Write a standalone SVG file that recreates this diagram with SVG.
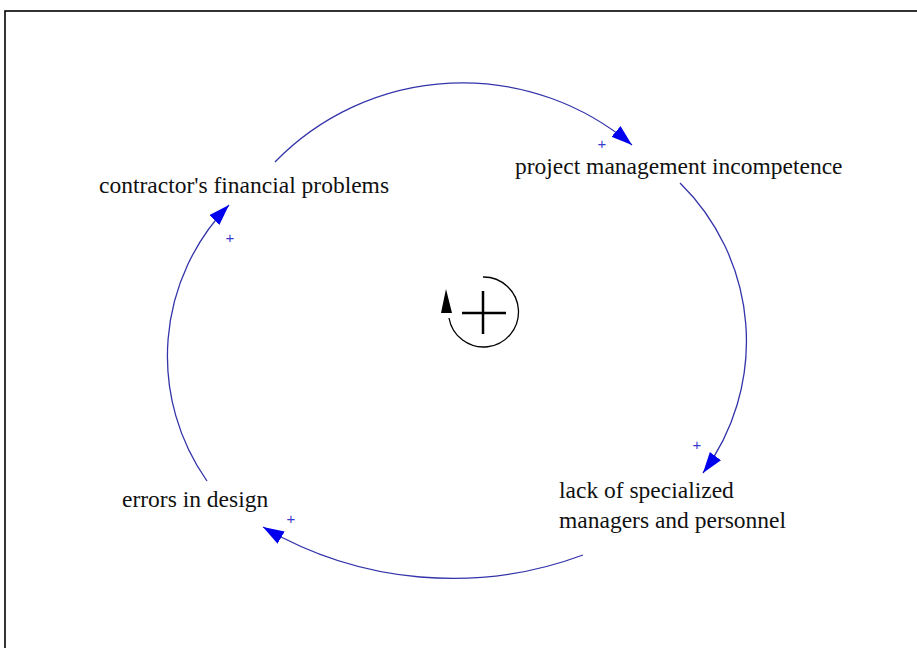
<svg xmlns="http://www.w3.org/2000/svg" width="917" height="648" viewBox="0 0 917 648">
<style>
.lbl{font-family:"Liberation Serif","Times New Roman",serif;font-size:23.5px;fill:#111}
.lnk{fill:none;stroke:#3333aa;stroke-width:1.3}
.pol{font-family:"Liberation Sans",Arial,sans-serif;font-size:15px;fill:#3a3acc;text-anchor:middle}
</style>
<defs>
<marker id="ah" markerUnits="userSpaceOnUse" markerWidth="22" markerHeight="16" refX="21" refY="7" orient="auto">
<path d="M0,0 L21,7 L0,14 Z" fill="#0000ee"/>
</marker>
</defs>
<rect x="5" y="11" width="1000" height="1000" fill="#fff" stroke="#000" stroke-width="1.6"/>
<g id="connectors">
<path class="lnk" d="M275,162 A262,262 0 0 1 632,145" marker-end="url(#ah)"/>
<path class="lnk" d="M680,183 A221.6,221.6 0 0 1 703,473" marker-end="url(#ah)"/>
<path class="lnk" d="M583,555 A375,375 0 0 1 263,527" marker-end="url(#ah)"/>
<path class="lnk" d="M207,481 A216.5,216.5 0 0 1 229,205" marker-end="url(#ah)"/>
<text class="pol" x="602" y="149">+</text>
<text class="pol" x="697" y="450">+</text>
<text class="pol" x="291" y="524">+</text>
<text class="pol" x="230" y="243">+</text>
</g>
<g id="node-contractor"><text class="lbl" x="99" y="193">contractor's financial problems</text></g>
<g id="node-pmi"><text class="lbl" x="515" y="174">project management incompetence</text></g>
<g id="node-lack"><text class="lbl" x="559" y="498">lack of specialized</text><text class="lbl" x="559" y="528">managers and personnel</text></g>
<g id="node-errors"><text class="lbl" x="122" y="507">errors in design</text></g>
<g id="loop">
<path d="M483,277 A35,35 0 1 1 449,318" fill="none" stroke="#000" stroke-width="1.3"/>
<path d="M446,289 L441,313 L452,313 Z" fill="#000"/>
<path d="M462,313 H506 M483,291 V334" stroke="#000" stroke-width="2.5"/>
</g>
</svg>
